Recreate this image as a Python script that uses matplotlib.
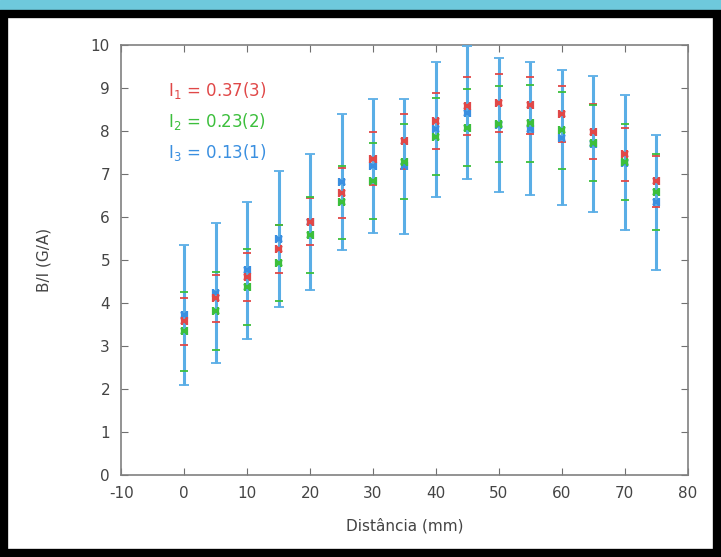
import matplotlib.pyplot as plt
import matplotlib.patches as patches
import numpy as np

plt.rcParams['axes.unicode_minus'] = False

# distances (mm)
dist = [0, 5, 10, 15, 20, 25, 30, 35, 40, 45, 50, 55, 60, 65, 70, 75]

# B/I (G/A) for the three currents, with uncertainties
b1 = [3.58, 4.11, 4.61, 5.26, 5.89, 6.57, 7.36, 7.76, 8.24, 8.58, 8.66, 8.60, 8.40, 7.99, 7.46, 6.83]
e1 = [0.55, 0.55, 0.55, 0.55, 0.55, 0.58, 0.62, 0.63, 0.65, 0.67, 0.67, 0.66, 0.65, 0.63, 0.61, 0.60]
b2 = [3.34, 3.82, 4.37, 4.93, 5.58, 6.34, 6.84, 7.29, 7.87, 8.08, 8.16, 8.18, 8.02, 7.72, 7.28, 6.58]
e2 = [0.91, 0.90, 0.88, 0.89, 0.88, 0.86, 0.89, 0.88, 0.89, 0.90, 0.88, 0.90, 0.90, 0.89, 0.88, 0.88]
b3 = [3.73, 4.24, 4.76, 5.49, 5.89, 6.81, 7.18, 7.18, 8.04, 8.43, 8.14, 8.06, 7.85, 7.71, 7.26, 6.34]
e3 = [1.63, 1.63, 1.60, 1.59, 1.58, 1.58, 1.56, 1.57, 1.57, 1.55, 1.56, 1.55, 1.56, 1.58, 1.57, 1.58]
xerr = 0.4

labels = ["I$_1$ = 0.37(3)", "I$_2$ = 0.23(2)", "I$_3$ = 0.13(1)"]
colors = ["#e04848", "#3cbf3c", "#3a8fe0"]

fig = plt.figure(figsize=(7.21, 5.57), dpi=100)
fig.patch.set_facecolor("white")

# slide-like frame around the plot
fig.patches.append(patches.Rectangle((0, 0.984), 1, 0.016, transform=fig.transFigure,
                                     color="#6ec9dc", zorder=0))
fig.patches.append(patches.Rectangle((0.006, 0.008), 0.988, 0.966, transform=fig.transFigure,
                                     fill=False, edgecolor="black", linewidth=6, zorder=5))

ax = fig.add_axes([0.168, 0.147, 0.786, 0.772])

data = [(b1, e1), (b2, e2), (b3, e3)]

# vertical error bars: red/green lines hidden under the wide blue line, caps on top
for i in [0, 1]:
    y, e = data[i]
    _, caps, bars = ax.errorbar(dist, y, yerr=e, fmt="none", ecolor=colors[i],
                                elinewidth=1, capsize=3, capthick=1.3)
    for b in bars:
        b.set_zorder(2)
    for c in caps:
        c.set_zorder(6)
_, caps, bars = ax.errorbar(dist, b3, yerr=e3, fmt="none", ecolor="#5aaee6",
                            elinewidth=2.2, capsize=3.5, capthick=1.3)
for b in bars:
    b.set_zorder(3)
for c in caps:
    c.set_color("#3a8fe0")
    c.set_zorder(4)

# points with small horizontal error bars
for i in [2, 1, 0]:
    y, e = data[i]
    ax.errorbar(dist, y, xerr=xerr, fmt="x", color=colors[i], ecolor=colors[i],
                markersize=4.5, mew=1.6, elinewidth=1.4, capsize=3, capthick=1.4,
                zorder=7 + (2 - i))

for k, lab in enumerate(labels):
    ax.text(-2.6, 8.95 - 0.72 * k, lab, color=colors[k], fontsize=12, va="center")

ax.set_xlim(-10, 80)
ax.set_ylim(0, 10)
ax.set_xticks(np.arange(-10, 81, 10))
ax.set_yticks(np.arange(0, 11, 1))
ax.tick_params(direction="in", top=True, right=True, length=5, color="#707070",
               labelsize=11, labelcolor="#444444", pad=8)
for s in ax.spines.values():
    s.set_color("#808080")
    s.set_linewidth(1.2)

ax.set_xlabel("Distância (mm)", fontsize=11, color="#444444", labelpad=12)
ax.set_ylabel("B/I (G/A)", fontsize=11, color="#444444", labelpad=28)

plt.savefig("out.png", dpi=100)
